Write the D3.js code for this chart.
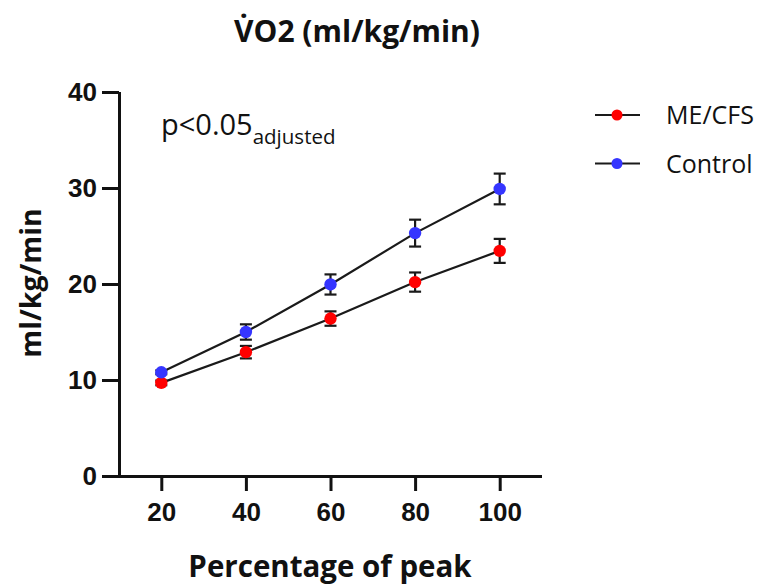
<!DOCTYPE html>
<html>
<head>
<meta charset="utf-8">
<script src="https://cdn.jsdelivr.net/npm/d3@7"></script>
<style>
  html, body { margin: 0; padding: 0; background: #fff; }
  svg { display: block; font-family: "Open Sans", "DejaVu Sans", sans-serif; }
  .axis path, .axis line { stroke: #111; stroke-width: 3px; }
  .axis text { font-size: 26px; font-weight: 700; fill: #111; }
</style>
</head>
<body>
<div id="chart"></div>
<script>
'use strict';

// ── Data ────────────────────────────────────────────────────────────────────
const percents   = [20, 40, 60, 80, 100];
const meMean     = [9.7, 12.9, 16.4, 20.2, 23.45];
const meErr      = [0.25, 0.65, 0.75, 1.0, 1.25];
const ctrlMean   = [10.8, 15.0, 19.95, 25.3, 29.9];
const ctrlErr    = [0.2, 0.8, 1.05, 1.4, 1.6];
const xTicks     = [20, 40, 60, 80, 100];
const yTicks     = [0, 10, 20, 30, 40];

const SERIES = [
  { name: 'ME/CFS',  mean: meMean,   err: meErr,   color: '#ff0000' },
  { name: 'Control', mean: ctrlMean, err: ctrlErr, color: '#3535ff' },
];

const W = 760, H = 586;
const PLOT = { left: 119, right: 542, top: 92, bottom: 476 };

const svg = d3.select('#chart').append('svg')
  .attr('width', W).attr('height', H);

const x = d3.scaleLinear().domain([10, 110]).range([PLOT.left, PLOT.right]);
const y = d3.scaleLinear().domain([0, 40]).range([PLOT.bottom, PLOT.top]);

// ── Axes ────────────────────────────────────────────────────────────────────
const xAxis = svg.append('g')
  .attr('class', 'axis')
  .attr('transform', `translate(0,${PLOT.bottom})`)
  .call(d3.axisBottom(x).tickValues(xTicks).tickSize(15).tickSizeOuter(0).tickPadding(12));
xAxis.select('.domain').attr('d', `M${PLOT.left - 17},0.5H${PLOT.right}`);

const yAxis = svg.append('g')
  .attr('class', 'axis')
  .attr('transform', `translate(${PLOT.left},0)`)
  .call(d3.axisLeft(y).tickValues(yTicks).tickSize(17).tickSizeOuter(0).tickPadding(5));
yAxis.select('.domain').attr('d', `M0.5,${PLOT.top}V${PLOT.bottom}`);

// ── Titles ──────────────────────────────────────────────────────────────────
svg.append('text')
  .attr('x', 357).attr('y', 42)
  .attr('text-anchor', 'middle')
  .style('font-size', '30px').style('font-weight', 700).style('fill', '#111')
  .text('V\u0307O2 (ml/kg/min)');

svg.append('text')
  .attr('x', 330).attr('y', 577)
  .attr('text-anchor', 'middle')
  .style('font-size', '29.5px').style('font-weight', 700).style('fill', '#111')
  .text('Percentage of peak');

svg.append('text')
  .attr('transform', 'translate(41,283) rotate(-90)')
  .attr('text-anchor', 'middle')
  .style('font-size', '28.5px').style('font-weight', 700).style('fill', '#111')
  .text('ml/kg/min');

// annotation
const ann = svg.append('text')
  .attr('x', 161).attr('y', 135)
  .style('font-size', '29px').style('fill', '#111');
ann.append('tspan').text('p<0.05');
ann.append('tspan').attr('dy', 9).style('font-size', '20.5px').text('adjusted');

// ── Series ──────────────────────────────────────────────────────────────────
const line = d3.line().x((d, i) => x(percents[i])).y(d => y(d));

SERIES.forEach(s => {
  const g = svg.append('g');

  g.append('path')
    .datum(s.mean)
    .attr('d', line)
    .attr('fill', 'none')
    .attr('stroke', '#1a1a1a')
    .attr('stroke-width', 2.2);

  // error bars
  const eb = g.selectAll('.eb').data(s.mean).enter().append('g');
  eb.append('line')
    .attr('x1', (d, i) => x(percents[i])).attr('x2', (d, i) => x(percents[i]))
    .attr('y1', (d, i) => y(d + s.err[i])).attr('y2', (d, i) => y(d - s.err[i]))
    .attr('stroke', '#1a1a1a').attr('stroke-width', 2.2);
  [1, -1].forEach(sign => {
    eb.append('line')
      .attr('x1', (d, i) => x(percents[i]) - 6).attr('x2', (d, i) => x(percents[i]) + 6)
      .attr('y1', (d, i) => y(d + sign * s.err[i])).attr('y2', (d, i) => y(d + sign * s.err[i]))
      .attr('stroke', '#1a1a1a').attr('stroke-width', 2.2);
  });

  g.selectAll('circle').data(s.mean).enter().append('circle')
    .attr('cx', (d, i) => x(percents[i]))
    .attr('cy', d => y(d))
    .attr('r', 6.2)
    .attr('fill', s.color);
});

// ── Legend ──────────────────────────────────────────────────────────────────
const lg = svg.append('g').attr('transform', 'translate(595,115)');
SERIES.forEach((s, i) => {
  const row = lg.append('g').attr('transform', `translate(0,${i * 48.5})`);
  row.append('line').attr('x1', 0).attr('x2', 45).attr('y1', 0).attr('y2', 0)
    .attr('stroke', '#1a1a1a').attr('stroke-width', 2);
  row.append('circle').attr('cx', 22).attr('cy', 0).attr('r', 5.5).attr('fill', s.color);
  row.append('text').attr('x', 71).attr('y', 9)
    .style('font-size', '25px').style('fill', '#111')
    .text(s.name);
});
</script>
</body>
</html>
